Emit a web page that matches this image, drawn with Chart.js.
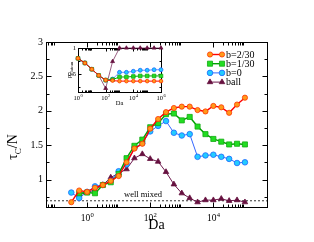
<!DOCTYPE html>
<html>
<head>
<meta charset="utf-8">
<script src="https://cdn.jsdelivr.net/npm/chart.js@4/dist/chart.umd.min.js"></script>
<style>
  html, body { margin: 0; padding: 0; background: #fff; }
  #wrap { position: relative; width: 314px; height: 242px; }
  #main { position: absolute; left: 0; top: 0; }
  #inset { position: absolute; left: 50px; top: 38px; }
</style>
</head>
<body>
<div id="wrap">
  <canvas id="main" width="314" height="242"></canvas>
  <canvas id="inset" width="120" height="72"></canvas>
</div>
<script>
// main panel: tau_C/N against Da
const da = [0.316, 0.562, 1, 1.78, 3.16, 5.62, 10, 17.8, 31.6, 56.2, 100, 178, 316,
            562, 1000, 1780, 3160, 5620, 10000, 17800, 31600, 56200, 100000];
const tauB2 = [0.67, 0.84, 0.82, 0.88, 0.92, 0.98, 1.05, 1.25, 1.45, 1.52, 1.74, 1.88, 1.98,
               2.04, 2.06, 2.06, 2.01, 1.99, 2.07, 2.05, 1.97, 2.09, 2.19];
const tauB1 = [null, 0.80, 0.81, 0.80, 0.92, 0.96, 1.08, 1.31, 1.49, 1.58, 1.76, 1.82, 1.95,
               1.96, 1.86, 1.91, 1.77, 1.66, 1.59, 1.55, 1.51, 1.52, 1.51];
const tauB0 = [0.81, 0.73, 0.82, 0.90, 0.92, 0.98, 1.12, 1.22, 1.46, 1.53, 1.70, 1.78, 1.85,
               1.68, 1.64, 1.66, 1.33, 1.35, 1.36, 1.33, 1.30, 1.24, 1.25];
const tauBall = [null, 0.78, 0.81, 0.85, 0.92, 1.03, 1.09, 1.15, 1.31, 1.37, 1.30, 1.26, 1.11,
                 0.93, 0.80, 0.73, 0.67, 0.70, 0.70, 0.72, 0.69, 0.70, 0.67];
const wellMixed = 0.69;

// inset: rho_plateau against Da
const daIn = [1, 3.16, 10, 31.6, 100, 316, 1000, 3160, 10000, 31600, 100000, 316000, 1000000];
const rhoB2 = [0.80, 0.71, 0.59, 0.47, 0.38, 0.37, 0.36, 0.36, 0.36, 0.36, 0.36, 0.36, 0.36];
const rhoB1 = [0.80, 0.71, 0.59, 0.47, 0.38, 0.39, 0.44, 0.44, 0.45, 0.46, 0.46, 0.46, 0.46];
const rhoB0 = [0.80, 0.71, 0.59, 0.47, 0.38, 0.40, 0.53, 0.53, 0.55, 0.57, 0.57, 0.58, 0.58];
const rhoBall = [0.80, 0.71, 0.59, 0.47, 0.22, 0.74, 1.0, 1.0, 1.0, 1.0, 1.0, 1.0, 1.0];

const labels = ['b=2/30', 'b=1/30', 'b=0', 'ball'];
const xMajor = ['0', '2', '4'];
const yMajor = [1, 1.5, 2, 2.5, 3];
const yMinor = [0.75, 1.25, 1.75, 2.25, 2.75];

const SERIF = '"Liberation Serif", "DejaVu Serif", serif';
const styles = [
  { line: '#ff0000', fill: '#ff9a1a', edge: '#ff3300', shape: 'circle', r: 2.6, w: 1.4 },
  { line: '#00a000', fill: '#22dd22', edge: '#11aa11', shape: 'rect', r: 3.6, w: 1.4 },
  { line: '#3366ff', fill: '#22ccff', edge: '#1a66ff', shape: 'circle', r: 2.8, w: 1 },
  { line: '#6e1a4e', fill: '#66103f', edge: '#66103f', shape: 'triangle', r: 3.2, w: 1 }
];

function pts(xs, ys) {
  return xs.map((x, i) => ({ x, y: ys[i] })).filter(p => p.y !== null);
}

function ds(i, xs, ys, scale) {
  const s = styles[i];
  return {
    label: labels[i], data: pts(xs, ys), clip: false,
    borderColor: s.line, borderWidth: s.w * scale, tension: 0,
    pointStyle: s.shape, pointRadius: s.r * scale,
    pointBackgroundColor: s.fill, pointBorderColor: s.edge, pointBorderWidth: 0.8
  };
}

function logTicks(decades) {
  const out = [];
  decades.forEach(d => { for (let k = 2; k <= 9; k++) out.push(k * d); });
  return out;
}

// frame with inward ticks on all four sides
function drawFrame(ctx, a, x, y, xs, ys, big, small) {
  ctx.save();
  ctx.strokeStyle = '#000';
  ctx.lineWidth = 1;
  const L = Math.round(a.left) + 0.5, R = Math.round(a.right) + 0.5;
  const T = Math.round(a.top) + 0.5, B = Math.round(a.bottom) + 0.5;
  ctx.strokeRect(L, T, R - L, B - T);
  ctx.beginPath();
  const put = (vals, len, isX) => vals.forEach(v => {
    if (isX) {
      const px = Math.round(x.getPixelForValue(v)) + 0.5;
      if (px < L || px > R) return;
      ctx.moveTo(px, B); ctx.lineTo(px, B - len);
      ctx.moveTo(px, T); ctx.lineTo(px, T + len);
    } else {
      const py = Math.round(y.getPixelForValue(v)) + 0.5;
      ctx.moveTo(L, py); ctx.lineTo(L + len, py);
      ctx.moveTo(R, py); ctx.lineTo(R - len, py);
    }
  });
  put(xs[0], big, true); put(xs[1], small, true);
  put(ys[0], big, false); put(ys[1], small, false);
  ctx.stroke();
  ctx.restore();
}

function drawPow(ctx, exp, cx, base, size) {
  ctx.font = size + 'px ' + SERIF;
  const w1 = ctx.measureText('10').width;
  ctx.font = (size * 0.7) + 'px ' + SERIF;
  const w2 = ctx.measureText(exp).width;
  const x0 = cx - (w1 + w2) / 2;
  ctx.textAlign = 'left';
  ctx.textBaseline = 'alphabetic';
  ctx.font = size + 'px ' + SERIF;
  ctx.fillText('10', x0, base);
  ctx.font = (size * 0.7) + 'px ' + SERIF;
  ctx.fillText(exp, x0 + w1 + 0.3, base - size * 0.45);
}

function marker(ctx, s, px, py, r) {
  ctx.fillStyle = s.fill;
  ctx.strokeStyle = s.edge;
  ctx.lineWidth = 0.8;
  ctx.beginPath();
  if (s.shape === 'circle') ctx.arc(px, py, r, 0, Math.PI * 2);
  else if (s.shape === 'rect') { const h = r * Math.SQRT1_2; ctx.rect(px - h, py - h, 2 * h, 2 * h); }
  else { ctx.moveTo(px, py - r); ctx.lineTo(px + r * 0.866, py + r * 0.5); ctx.lineTo(px - r * 0.866, py + r * 0.5); ctx.closePath(); }
  ctx.fill(); ctx.stroke();
}

const mainDecor = {
  id: 'mainDecor',
  afterDraw(chart) {
    const { ctx, chartArea: a, scales: { x, y } } = chart;
    drawFrame(ctx, a, x, y,
      [[1, 100, 10000], logTicks([0.01, 1, 100, 10000])],
      [yMajor, yMinor], 5, 3);
    ctx.save();
    ctx.fillStyle = '#000';
    // y tick labels
    ctx.font = '10px ' + SERIF;
    ctx.textAlign = 'right';
    ctx.textBaseline = 'middle';
    yMajor.forEach(v => ctx.fillText(String(v), a.left - 3, y.getPixelForValue(v)));
    // x tick labels
    xMajor.forEach(e => drawPow(ctx, e, x.getPixelForValue(Math.pow(10, +e)), 221, 9.5));
    // axis titles
    ctx.font = '14px ' + SERIF;
    ctx.textAlign = 'center';
    ctx.fillText('Da', (a.left + a.right) / 2, 229);
    ctx.save();
    ctx.translate(17, 147);
    ctx.rotate(-Math.PI / 2);
    ctx.textAlign = 'left';
    ctx.textBaseline = 'alphabetic';
    ctx.font = '14px ' + SERIF;
    const wt = ctx.measureText('τ').width;
    ctx.font = '9px ' + SERIF;
    const wc = ctx.measureText('C').width;
    ctx.font = '14px ' + SERIF;
    const wn = ctx.measureText('/N').width;
    let x0 = -(wt + wc + wn) / 2;
    ctx.fillText('τ', x0, 0);
    ctx.font = '9px ' + SERIF;
    ctx.fillText('C', x0 + wt, 3.5);
    ctx.font = '14px ' + SERIF;
    ctx.fillText('/N', x0 + wt + wc, 0);
    ctx.restore();
    // well mixed note
    ctx.font = '8.5px ' + SERIF;
    ctx.textAlign = 'left';
    ctx.textBaseline = 'alphabetic';
    ctx.fillText('well mixed', 124, 197);
    // legend
    styles.forEach((s, i) => {
      const ly = 54.5 + i * 9.2;
      ctx.strokeStyle = s.line;
      ctx.lineWidth = s.w;
      ctx.beginPath(); ctx.moveTo(210, ly); ctx.lineTo(222, ly); ctx.stroke();
      marker(ctx, s, 210, ly, s.r);
      marker(ctx, s, 222, ly, s.r);
      ctx.fillStyle = '#000';
      ctx.font = '10px ' + SERIF;
      ctx.textBaseline = 'middle';
      ctx.fillText(labels[i], 226, ly + 0.5);
    });
    ctx.restore();
  }
};

new Chart(document.getElementById('main'), {
  type: 'line',
  data: {
    datasets: [
      ds(0, da, tauB2, 1), ds(1, da, tauB1, 1), ds(2, da, tauB0, 1), ds(3, da, tauBall, 1),
      { label: 'well mixed', data: [{ x: 0.05, y: wellMixed }, { x: 5e5, y: wellMixed }],
        borderColor: '#000', borderWidth: 0.8, borderDash: [2, 2], pointRadius: 0 }
    ]
  },
  options: {
    responsive: false, animation: false,
    layout: { padding: { left: 46, right: 47, top: 42, bottom: 35 } },
    plugins: { legend: { display: false }, tooltip: { enabled: false } },
    scales: {
      x: { type: 'logarithmic', min: 0.05, max: 5e5, display: false },
      y: { min: 0.6, max: 3, display: false }
    }
  },
  plugins: [mainDecor]
});

const insetDecor = {
  id: 'insetDecor',
  beforeDraw(chart) {
    const { ctx, chartArea: a } = chart;
    ctx.save();
    ctx.fillStyle = '#fff';
    ctx.fillRect(a.left, a.top, a.right - a.left, a.bottom - a.top);
    ctx.restore();
  },
  beforeDatasetsDraw(chart) {
    const { ctx, chartArea: a, scales: { x, y } } = chart;
    drawFrame(ctx, a, x, y,
      [[1, 100, 10000, 1000000], logTicks([1, 100, 10000])],
      [[0.5, 1], [0.25, 0.75]], 3, 2);
  },
  afterDraw(chart) {
    const { ctx, chartArea: a, scales: { x, y } } = chart;
    ctx.save();
    ctx.fillStyle = '#000';
    ctx.font = '6.5px ' + SERIF;
    ctx.textAlign = 'right';
    ctx.textBaseline = 'middle';
    [0.5, 1].forEach(v => ctx.fillText(String(v), a.left - 2, y.getPixelForValue(v)));
    ['0', '2', '4', '6'].forEach(e => drawPow(ctx, e, x.getPixelForValue(Math.pow(10, +e)), 62, 6.5));
    ctx.font = '6.5px ' + SERIF;
    ctx.textAlign = 'center';
    ctx.fillText('Da', (a.left + a.right) / 2, 67);
    ctx.save();
    ctx.translate(21, 32);
    ctx.rotate(-Math.PI / 2);
    ctx.textAlign = 'left';
    ctx.textBaseline = 'alphabetic';
    ctx.font = '7px ' + SERIF;
    const wr = ctx.measureText('ρ').width;
    ctx.font = '4.5px ' + SERIF;
    const wp = ctx.measureText('plateau').width;
    const x0 = -(wr + wp) / 2;
    ctx.font = '7px ' + SERIF;
    ctx.fillText('ρ', x0, 0);
    ctx.font = '4.5px ' + SERIF;
    ctx.fillText('plateau', x0 + wr, 2);
    ctx.restore();
    ctx.restore();
  }
};

new Chart(document.getElementById('inset'), {
  type: 'line',
  data: {
    datasets: [ds(0, daIn, rhoB2, 0.7), ds(1, daIn, rhoB1, 0.7), ds(2, daIn, rhoB0, 0.7), ds(3, daIn, rhoBall, 0.7)]
  },
  options: {
    responsive: false, animation: false,
    layout: { padding: { left: 28, right: 9, top: 10, bottom: 18 } },
    plugins: { legend: { display: false }, tooltip: { enabled: false } },
    scales: {
      x: { type: 'logarithmic', min: 1, max: 1e6, display: false },
      y: { min: 0.15, max: 1, display: false }
    }
  },
  plugins: [insetDecor]
});
</script>
</body>
</html>
